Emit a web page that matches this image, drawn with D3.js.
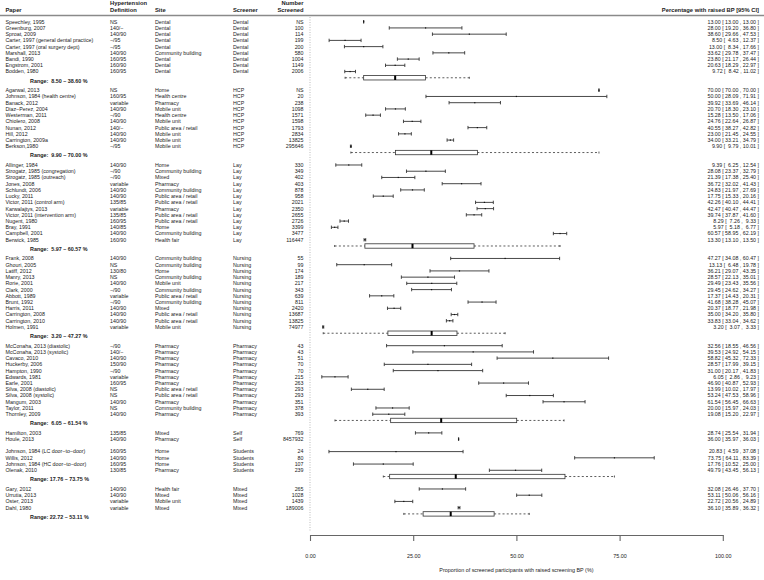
<!DOCTYPE html>
<html>
<head>
<meta charset="utf-8">
<script src="https://cdn.jsdelivr.net/npm/d3@7"></script>
<style>
body { margin: 0; background: #fff; }
svg text { font-family: "Liberation Sans", Arial, Helvetica, sans-serif; fill: #222; }
</style>
</head>
<body>
<script>
var papers = [
  "Speechley, 1995", "Greenburg, 2007", "Sproat, 2009", "Carter, 1997 (general dental practice)", "Carter, 1997 (oral surgery dept)",
  "Marshall, 2013", "Bandi, 1990", "Engstrom, 2001", "Bodden, 1980",
  "Agarwal, 2013", "Johnson, 1984 (health centre)", "Banack, 2012", "Diaz\u2212Perez, 2004", "Westerman, 2011", "Chiolero, 2008",
  "Nunan, 2012", "Hill, 2012", "Carrington, 2009a", "Berkson,1980",
  "Allinger, 1984", "Strogatz, 1985 (congregation)", "Strogatz, 1985 (outreach)", "Jones, 2008", "Schlundt, 2006", "Lucky, 2011",
  "Victor, 2011 (control arm)", "Karwalajtys, 2013", "Victor, 2011 (intervention arm)", "Nugent, 1980", "Bray, 1991", "Campbell, 2001", "Berwick, 1985",
  "Frank, 2008", "Ghouri, 2005", "Latiff, 2012", "Manry, 2013", "Rorie, 2001", "Clark, 2000", "Abbott, 1989", "Brunt, 1992",
  "Harris, 2011", "Carrington, 2008", "Carrington, 2010", "Holmen, 1991",
  "McConaha, 2013 (diastolic)", "McConaha, 2013 (systolic)", "Cavaco, 2010", "Huckerby, 2006", "Hampton, 1990", "Edwards, 1981",
  "Earle, 2001", "Silva, 2008 (diastolic)", "Silva, 2008 (systolic)", "Mangum, 2003", "Taylor, 2011", "Thornley, 2009",
  "Hamilton, 2003", "Houle, 2013",
  "Johnson, 1984 (LC door\u2212to\u2212door)", "Willis, 2012", "Johnson, 1984 (HC door\u2212to\u2212door)", "Olenak, 2010",
  "Gary, 2012", "Urrutia, 2013", "Oster, 2013", "Dahl, 1980"
];
var definitions = [
  "NS", "140/\u2212", "140/90", "\u2212/95", "\u2212/95", "140/90", "160/95", "160/90", "160/95",
  "NS", "160/95", "variable", "140/90", "\u2212/90", "140/90", "140/\u2212", "140/90", "140/90", "\u2212/95",
  "140/90", "\u2212/90", "\u2212/90", "variable", "140/90", "140/90", "135/85", "variable", "135/85", "160/95", "140/85", "140/90", "160/90",
  "140/90", "NS", "130/80", "NS", "140/90", "\u2212/90", "variable", "\u2212/90", "140/90", "140/90", "140/90", "variable",
  "\u2212/90", "140/\u2212", "140/90", "150/90", "\u2212/90", "variable", "160/95", "NS", "NS", "140/90", "NS", "140/90",
  "135/85", "140/90",
  "160/95", "140/90", "160/95", "130/85",
  "140/90", "140/90", "variable", "variable"
];
var sites = [
  "Dental", "Dental", "Dental", "Dental", "Dental", "Community building", "Dental", "Dental", "Dental",
  "Home", "Health centre", "Pharmacy", "Mobile unit", "Health centre", "Mobile unit", "Public area / retail", "Mobile unit", "Mobile unit", "Mobile unit",
  "Home", "Community building", "Mixed", "Pharmacy", "Community building", "Public area / retail", "Public area / retail", "Pharmacy",
  "Public area / retail", "Public area / retail", "Home", "Community building", "Health fair",
  "Community building", "Community building", "Home", "Community building", "Mobile unit", "Community building", "Public area / retail",
  "Community building", "Mixed", "Public area / retail", "Public area / retail", "Mobile unit",
  "Pharmacy", "Pharmacy", "Pharmacy", "Pharmacy", "Pharmacy", "Pharmacy", "Pharmacy", "Public area / retail", "Public area / retail",
  "Pharmacy", "Community building", "Pharmacy",
  "Mixed", "Pharmacy",
  "Home", "Home", "Home", "Pharmacy",
  "Health fair", "Mixed", "Mobile unit", "Mixed"
];
var screeners = [
  "Dental", "Dental", "Dental", "Dental", "Dental", "Dental", "Dental", "Dental", "Dental",
  "HCP", "HCP", "HCP", "HCP", "HCP", "HCP", "HCP", "HCP", "HCP", "HCP",
  "Lay", "Lay", "Lay", "Lay", "Lay", "Lay", "Lay", "Lay", "Lay", "Lay", "Lay", "Lay", "Lay",
  "Nursing", "Nursing", "Nursing", "Nursing", "Nursing", "Nursing", "Nursing", "Nursing", "Nursing", "Nursing", "Nursing", "Nursing",
  "Pharmacy", "Pharmacy", "Pharmacy", "Pharmacy", "Pharmacy", "Pharmacy", "Pharmacy", "Pharmacy", "Pharmacy", "Pharmacy", "Pharmacy", "Pharmacy",
  "Self", "Self",
  "Students", "Students", "Students", "Students",
  "Mixed", "Mixed", "Mixed", "Mixed"
];
// null = not stated
var numbers = [
  null, 100, 114, 199, 200, 580, 1004, 1149, 2006,
  null, 20, 238, 1098, 1571, 1598, 1793, 2834, 13825, 295646,
  330, 349, 402, 403, 878, 958, 2021, 2350, 2655, 2726, 3399, 3477, 116447,
  55, 99, 174, 189, 217, 343, 639, 811, 2420, 13687, 13825, 74977,
  43, 43, 51, 70, 70, 215, 263, 293, 293, 351, 378, 393,
  769, 8457932,
  24, 80, 107, 239,
  265, 1028, 1439, 189006
];
var est = [
  13.00, 28.00, 38.60, 8.50, 13.00, 33.62, 23.80, 20.63, 9.72,
  70.00, 50.00, 39.92, 20.70, 15.28, 24.76, 40.55, 23.00, 34.00, 9.90,
  9.39, 28.08, 21.39, 36.72, 24.83, 17.75, 42.26, 42.47, 39.74, 8.29, 5.97, 60.57, 13.30,
  47.27, 13.13, 36.21, 28.57, 29.49, 29.45, 17.37, 41.68, 20.37, 35.00, 33.83, 3.20,
  32.56, 39.53, 58.82, 28.57, 31.00, 6.05, 46.90, 13.99, 53.24, 61.54, 20.00, 19.08,
  28.74, 36.00,
  20.83, 73.75, 17.76, 49.79,
  32.08, 53.11, 22.72, 36.10
];
var lower = [
  13.00, 19.20, 29.66, 4.63, 8.34, 29.78, 21.17, 18.29, 8.42,
  70.00, 28.09, 33.69, 18.30, 13.50, 22.64, 38.27, 21.45, 33.21, 9.79,
  6.25, 23.37, 17.38, 32.02, 21.97, 15.33, 40.10, 40.47, 37.87, 7.26, 5.18, 58.95, 13.10,
  34.08, 6.48, 29.07, 22.13, 23.43, 24.62, 14.43, 38.28, 18.77, 34.20, 33.04, 3.07,
  18.55, 24.92, 45.32, 17.99, 20.17, 2.86, 40.87, 10.02, 47.53, 56.45, 15.97, 15.20,
  25.54, 35.97,
  4.59, 64.11, 10.52, 43.45,
  26.46, 50.06, 20.56, 35.89
];
var upper = [
  13.00, 36.80, 47.53, 12.37, 17.66, 37.47, 26.44, 22.97, 11.02,
  70.00, 71.91, 46.14, 23.10, 17.06, 26.87, 42.82, 24.55, 34.79, 10.01,
  12.54, 32.79, 25.40, 41.43, 27.69, 20.16, 44.41, 44.47, 41.60, 9.33, 6.77, 62.19, 13.50,
  60.47, 19.78, 43.35, 35.01, 35.56, 34.27, 20.31, 45.07, 21.98, 35.80, 34.62, 3.33,
  46.56, 54.15, 72.33, 39.15, 41.83, 9.23, 52.93, 17.97, 58.96, 66.63, 24.03, 22.97,
  31.94, 36.03,
  37.08, 83.39, 25.00, 56.13,
  37.70, 56.16, 24.89, 36.32
];
var groups = ["Dental", "HCP", "Lay", "Nursing", "Pharmacy", "Self", "Students", "Mixed"];
var xTicks = [0, 25, 50, 75, 100];

var w = 764, h = 580;
var f = d3.format(".2f");

function pad(s, n){
  while (s.length < n) s = " " + s;
  return s;
}

// Tukey five number summary, like R's fivenum()
function fivenum(v){
  var x = v.slice().sort(d3.ascending), n = x.length;
  var n4 = Math.floor((n + 3) / 2) / 2;
  var d = [1, n4, (n + 1) / 2, n + 1 - n4, n];
  return d.map(function(p){
    return 0.5 * (x[Math.floor(p) - 1] + x[Math.ceil(p) - 1]);
  });
}

// row positions: studies, then the box row (if the group has more than 2), then a blank
var rows = [];
var boxes = [];
var r = 0;
groups.forEach(function(g){
  var vals = [];
  screeners.forEach(function(s, i){
    if (s === g){ rows[i] = r; r++; vals.push(est[i]); }
  });
  if (vals.length > 2){
    boxes.push({group: g, row: r, stats: fivenum(vals)});
    r++;
  }
  r++;
});
var lastRow = r - 2;

var x = d3.scaleLinear().domain([0, 100]).range([310, 722.8]);
var y = d3.scaleLinear().domain([0, lastRow]).range([21.7, 513.9]);

var svg = d3.select("body")
  .append("svg")
  .attr("width", w)
  .attr("height", h);

// header
var head = svg.append("g").attr("font-weight", "bold").attr("font-size", "5.8px");
head.append("text").text("Paper").attr("x", 5.5).attr("y", 11.8);
head.append("text").text("Hypertension").attr("x", 110).attr("y", 5);
head.append("text").text("Definition").attr("x", 110).attr("y", 11.8);
head.append("text").text("Site").attr("x", 155).attr("y", 11.8);
head.append("text").text("Screener").attr("x", 233).attr("y", 11.8);
head.append("text").text("Number").attr("x", 303.5).attr("y", 5).attr("text-anchor", "end");
head.append("text").text("Screened").attr("x", 303.5).attr("y", 11.8).attr("text-anchor", "end");
head.append("text").text("Percentage with raised BP [95% CI]").attr("x", 759).attr("y", 11.8).attr("text-anchor", "end");

svg.append("line")
  .attr("x1", 0).attr("x2", w)
  .attr("y1", 15.5).attr("y2", 15.5)
  .attr("stroke", "#8a8a8a")
  .attr("stroke-width", 1.3);

// zero reference line
svg.append("line")
  .attr("x1", x(0)).attr("x2", x(0))
  .attr("y1", 17).attr("y2", 531)
  .attr("stroke", "#aaa")
  .attr("stroke-width", 0.8)
  .attr("stroke-dasharray", "1,1.5");

// confidence intervals
var idx = d3.range(papers.length);
var ci = svg.append("g").attr("stroke", "#333").attr("stroke-width", 0.9);

ci.selectAll(".ci")
  .data(idx)
  .enter().append("line")
  .attr("x1", function(i){ return x(lower[i]); })
  .attr("x2", function(i){ return x(upper[i]); })
  .attr("y1", function(i){ return y(rows[i]); })
  .attr("y2", function(i){ return y(rows[i]); });

ci.selectAll(".capl")
  .data(idx)
  .enter().append("line")
  .attr("x1", function(i){ return x(lower[i]); })
  .attr("x2", function(i){ return x(lower[i]); })
  .attr("y1", function(i){ return y(rows[i]) - 1.7; })
  .attr("y2", function(i){ return y(rows[i]) + 1.7; });

ci.selectAll(".capr")
  .data(idx)
  .enter().append("line")
  .attr("x1", function(i){ return x(upper[i]); })
  .attr("x2", function(i){ return x(upper[i]); })
  .attr("y1", function(i){ return y(rows[i]) - 1.7; })
  .attr("y2", function(i){ return y(rows[i]) + 1.7; });

svg.selectAll(".pt")
  .data(idx)
  .enter().append("rect")
  .attr("x", function(i){ return x(est[i]) - 0.6; })
  .attr("y", function(i){ return y(rows[i]) - 0.6; })
  .attr("width", 1.2)
  .attr("height", 1.2)
  .attr("fill", "#111");

// group box plots of the point estimates
var bh = 4.4;
var bx = svg.selectAll(".box")
  .data(boxes)
  .enter().append("g");

bx.append("line")
  .attr("x1", function(d){ return x(d.stats[0]); })
  .attr("x2", function(d){ return x(d.stats[1]); })
  .attr("y1", function(d){ return y(d.row); })
  .attr("y2", function(d){ return y(d.row); })
  .attr("stroke", "#333").attr("stroke-width", 0.8).attr("stroke-dasharray", "2,2.2");

bx.append("line")
  .attr("x1", function(d){ return x(d.stats[3]); })
  .attr("x2", function(d){ return x(d.stats[4]); })
  .attr("y1", function(d){ return y(d.row); })
  .attr("y2", function(d){ return y(d.row); })
  .attr("stroke", "#333").attr("stroke-width", 0.8).attr("stroke-dasharray", "2,2.2");

[0, 4].forEach(function(k){
  bx.append("line")
    .attr("x1", function(d){ return x(d.stats[k]); })
    .attr("x2", function(d){ return x(d.stats[k]); })
    .attr("y1", function(d){ return y(d.row) - 1; })
    .attr("y2", function(d){ return y(d.row) + 1; })
    .attr("stroke", "#333").attr("stroke-width", 0.8);
});

bx.append("rect")
  .attr("x", function(d){ return x(d.stats[1]); })
  .attr("y", function(d){ return y(d.row) - bh / 2; })
  .attr("width", function(d){ return x(d.stats[3]) - x(d.stats[1]); })
  .attr("height", bh)
  .attr("fill", "#fff")
  .attr("stroke", "#333")
  .attr("stroke-width", 0.8);

bx.append("rect")
  .attr("x", function(d){ return x(d.stats[2]) - 1; })
  .attr("y", function(d){ return y(d.row) - bh / 2; })
  .attr("width", 2)
  .attr("height", bh)
  .attr("fill", "#000");

bx.append("text")
  .text(function(d){ return "Range: " + pad(f(d.stats[0]), 5) + " \u2013 " + f(d.stats[4]) + " %"; })
  .attr("x", 30)
  .attr("y", function(d){ return y(d.row) + 3 + 1.9; })
  .attr("font-size", "5.4px")
  .attr("font-weight", "bold")
  .attr("xml:space", "preserve")
  .style("white-space", "pre");

// table columns
function column(vals, xpos, anchor){
  svg.append("g")
    .attr("font-size", "5.3px")
    .selectAll("text")
    .data(idx)
    .enter().append("text")
    .text(function(i){ return vals[i]; })
    .attr("x", xpos)
    .attr("y", function(i){ return y(rows[i]) + 1.9; })
    .attr("text-anchor", anchor)
    .attr("xml:space", "preserve")
    .style("white-space", "pre");
}

column(papers, 5.5, "start");
column(definitions, 110, "start");
column(sites, 155, "start");
column(screeners, 233, "start");
column(numbers.map(function(n){ return n === null ? "NS" : String(n); }), 303.5, "end");
column(idx.map(function(i){
  return pad(f(est[i]), 5) + " [" + pad(f(lower[i]), 6) + " ," + pad(f(upper[i]), 6) + " ]";
}), 759, "end");

// axis
var axis = svg.append("g")
  .attr("transform", "translate(0,535)")
  .call(d3.axisBottom(x).tickValues(xTicks).tickFormat(f).tickSize(6).tickSizeOuter(0).tickPadding(13));

axis.select(".domain").attr("stroke", "#666").attr("stroke-width", 1.1);
axis.selectAll(".tick line").attr("stroke", "#666").attr("stroke-width", 1.1);
axis.selectAll(".tick text")
  .attr("font-size", "5.4px")
  .attr("font-family", null)
  .attr("fill", "#222");
axis.attr("font-family", null);

svg.append("text")
  .text("Proportion of screened participants with raised screening BP (%)")
  .attr("x", x(50))
  .attr("y", 571.5)
  .attr("text-anchor", "middle")
  .attr("font-size", "5.4px");
</script>
</body>
</html>
